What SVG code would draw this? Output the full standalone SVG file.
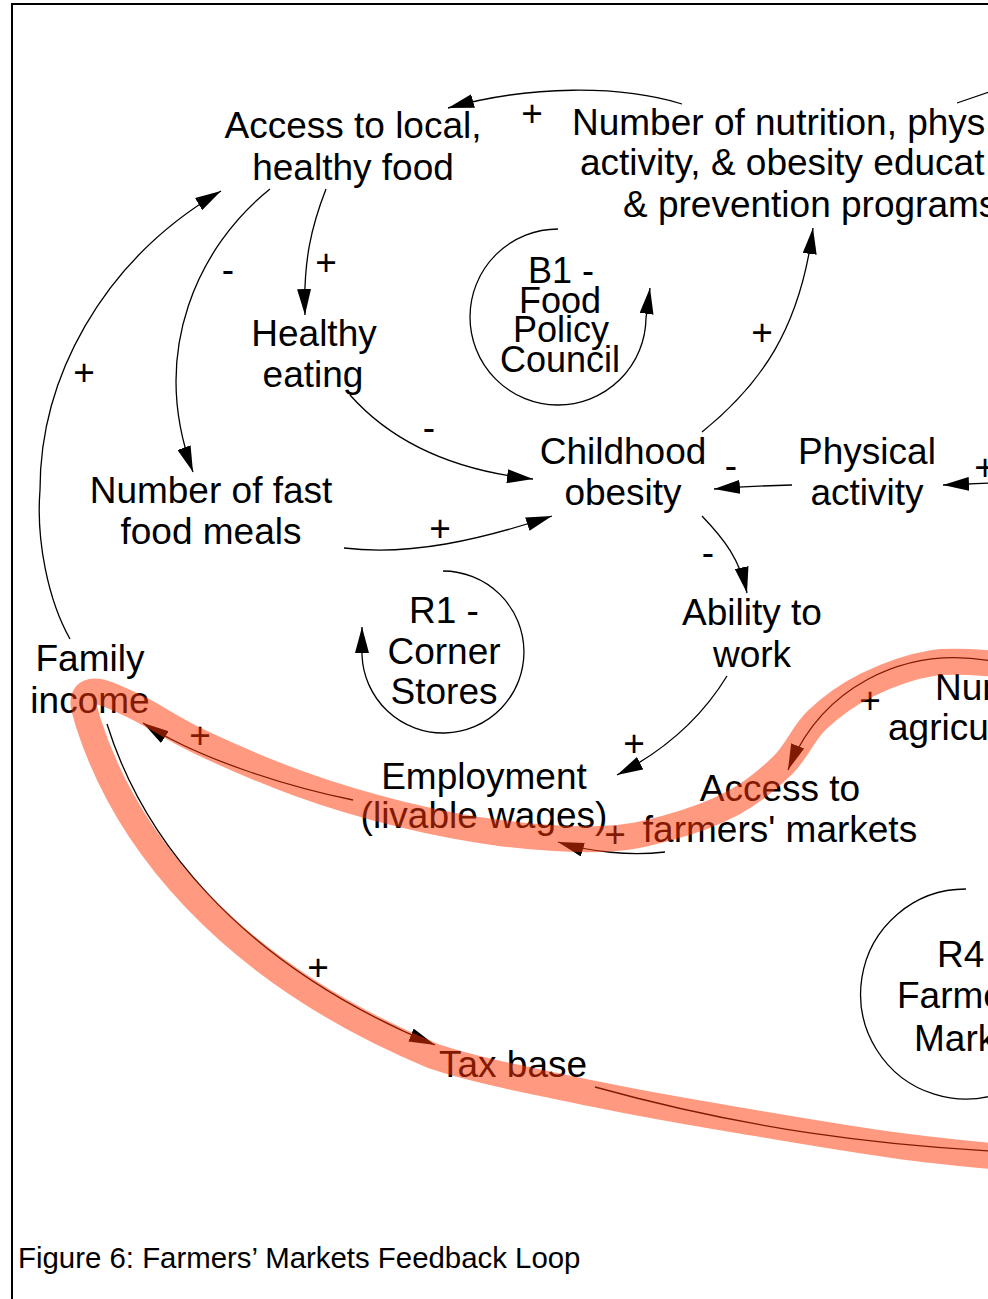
<svg xmlns="http://www.w3.org/2000/svg" width="988" height="1299" viewBox="0 0 988 1299">
  <style>
    text { font-family: "Liberation Sans", Arial, sans-serif; fill: #000; }
    .n { font-size: 37px; text-anchor: middle; }
    .s { font-size: 37px; text-anchor: start; }
    .lp { font-size: 36px; text-anchor: middle; }
    .sg { font-size: 37px; text-anchor: middle; }
    .cap { font-size: 29.4px; }
    .link { fill: none; stroke: #000; stroke-width: 1.3; }
    .arr { marker-end: url(#ah); }
    .loop { fill: none; stroke: #000; stroke-width: 1.3; }
    .hl { fill: none; stroke: #FF3300; stroke-opacity: 0.5; stroke-width: 26; stroke-linejoin: round; stroke-linecap: round; }
  </style>
  <defs>
    <marker id="ah" viewBox="0 0 26 14" refX="26" refY="7" markerWidth="26" markerHeight="14" markerUnits="userSpaceOnUse" orient="auto">
      <path d="M0,0 L26,7 L0,14 z" fill="#000"/>
    </marker>
  </defs>

  <rect width="988" height="1299" fill="#fff"/>
  <!-- frame -->
  <path d="M12,1302 L12,4 L992,4" fill="none" stroke="#000" stroke-width="2"/>

  <!-- causal links -->
  <g id="connectors">
    <path class="link arr" d="M682,104 C620,85 530,85 448,108"/>
    <path class="link" d="M957,103 L992,91"/>
    <path class="link arr" d="M326,189 C312,225 303,260 305,315"/>
    <path class="link arr" d="M270,189 C200,245 148,350 193,472"/>
    <path class="link arr" d="M70,639 C48,600 36,540 40,490 C40,380 100,262 221,191"/>
    <path class="link arr" d="M350,395 C390,440 450,470 533,479"/>
    <path class="link arr" d="M344,548 C410,556 480,540 552,516"/>
    <path class="link arr" d="M702,432 C760,385 800,330 813,228"/>
    <path class="link arr" d="M792,485 Q750,486 714,489"/>
    <path class="link arr" d="M992,483 L943,485"/>
    <path class="link arr" d="M702,516 C725,540 740,560 747,593"/>
    <path class="link arr" d="M727,676 C705,712 670,748 617,775"/>
    <path class="link arr" d="M107,724 C140,830 230,960 435,1045"/>
    <path class="link" d="M595,1087 C750,1130 880,1145 992,1151"/>
    <path class="link arr" d="M353,800 C290,787 200,760 143,723"/>
    <path class="link arr" d="M665,852 C630,856 590,852 558,842"/>
    <path class="link arr" d="M992,661 C900,645 820,690 788,770"/>

    <!-- polarity signs -->
    <text class="sg" x="532" y="126">+</text>
    <text class="sg" x="326" y="275">+</text>
    <text class="sg" x="228" y="282">-</text>
    <text class="sg" x="84" y="385">+</text>
    <text class="sg" x="429" y="440">-</text>
    <text class="sg" x="440" y="541">+</text>
    <text class="sg" x="762" y="345">+</text>
    <text class="sg" x="731" y="478">-</text>
    <text class="sg" x="985" y="480">+</text>
    <text class="sg" x="708" y="565">-</text>
    <text class="sg" x="634" y="756">+</text>
    <text class="sg" x="200" y="748">+</text>
    <text class="sg" x="318" y="980">+</text>
    <text class="sg" x="615" y="847">+</text>
    <text class="sg" x="870" y="713">+</text>
  </g>

  <!-- variables -->
  <g id="access-local-food">
    <text class="n" x="353" y="138">Access to local,</text>
    <text class="n" x="353" y="180">healthy food</text>
  </g>
  <g id="education-programs">
    <text class="s" x="572" y="135">Number of nutrition, phys</text>
    <text class="s" x="580" y="175">activity, &amp; obesity educat</text>
    <text class="s" x="623" y="217">&amp; prevention programs</text>
  </g>
  <g id="healthy-eating">
    <text class="n" x="314" y="346">Healthy</text>
    <text class="n" x="313" y="387">eating</text>
  </g>
  <g id="fast-food-meals">
    <text class="n" x="211" y="503">Number of fast</text>
    <text class="n" x="211" y="544">food meals</text>
  </g>
  <g id="childhood-obesity">
    <text class="n" x="623" y="464">Childhood</text>
    <text class="n" x="623" y="505">obesity</text>
  </g>
  <g id="physical-activity">
    <text class="n" x="867" y="464">Physical</text>
    <text class="n" x="867" y="505">activity</text>
  </g>
  <g id="ability-to-work">
    <text class="n" x="752" y="625">Ability to</text>
    <text class="n" x="752" y="667">work</text>
  </g>
  <g id="family-income">
    <text class="n" x="90" y="671">Family</text>
    <text class="n" x="90" y="713">income</text>
  </g>
  <g id="employment">
    <text class="n" x="484" y="789">Employment</text>
    <text class="n" x="484" y="828">(livable wages)</text>
  </g>
  <g id="access-farmers-markets">
    <text class="n" x="780" y="801">Access to</text>
    <text class="n" x="780" y="842">farmers' markets</text>
  </g>
  <g id="agriculture">
    <text class="s" x="935" y="700">Num</text>
    <text class="s" x="888" y="740">agricu</text>
  </g>
  <g id="tax-base">
    <text class="n" x="513" y="1077">Tax base</text>
  </g>

  <!-- loop markers -->
  <g id="loop-b1">
    <path class="loop arr" d="M558,229 A88,88 0 1 0 646,318 L650,288"/>
    <text class="lp" x="561" y="283">B1 -</text>
    <text class="lp" x="560" y="313">Food</text>
    <text class="lp" x="561" y="342">Policy</text>
    <text class="lp" x="560" y="372">Council</text>
  </g>
  <g id="loop-r1">
    <path class="loop arr" d="M443,571 A81,81 0 1 1 362,655 L362,627"/>
    <text class="n" x="444" y="623">R1 -</text>
    <text class="n" x="444" y="664">Corner</text>
    <text class="n" x="444" y="704">Stores</text>
  </g>
  <g id="loop-r4">
    <path class="loop" d="M966,889 A105,105 0 1 0 1060,1040"/>
    <text class="s" x="937" y="967">R4</text>
    <text class="s" x="897" y="1008">Farme</text>
    <text class="s" x="914" y="1051">Mark</text>
  </g>

  <!-- highlighted farmers' markets loop -->
  <g id="highlight">
    <path class="hl" d="M1000,664 C988.8,663.8 955.2,659.5 933,663 C910.8,666.5 886.3,675.5 867,685 C847.7,694.5 831,706.7 817,720 C803,733.3 797,751.2 783,765 C769,778.8 752.3,792.5 733,803 C713.7,813.5 689.2,822 667,828 C644.8,834 627.8,838.2 600,839 C572.2,839.8 533.3,837.2 500,833 C466.7,828.8 433.3,822.2 400,814 C366.7,805.8 333.3,796 300,784 C266.7,772 226.7,754.5 200,742 C173.3,729.5 156.7,717.3 140,709 C123.3,700.7 109.3,693.8 100,692 C90.7,690.2 86,693 84,698 C82,703 85.3,711.7 88,722 C124,835 222,968 433,1056 C479.7,1071.8 544.3,1083.3 600,1095 C655.7,1106.7 717,1116.5 767,1125 C817,1133.5 861.2,1140.7 900,1146 C938.8,1151.3 983.3,1155.2 1000,1157"/>
  </g>

  <text class="cap" x="18" y="1268">Figure 6: Farmers’ Markets Feedback Loop</text>
</svg>
